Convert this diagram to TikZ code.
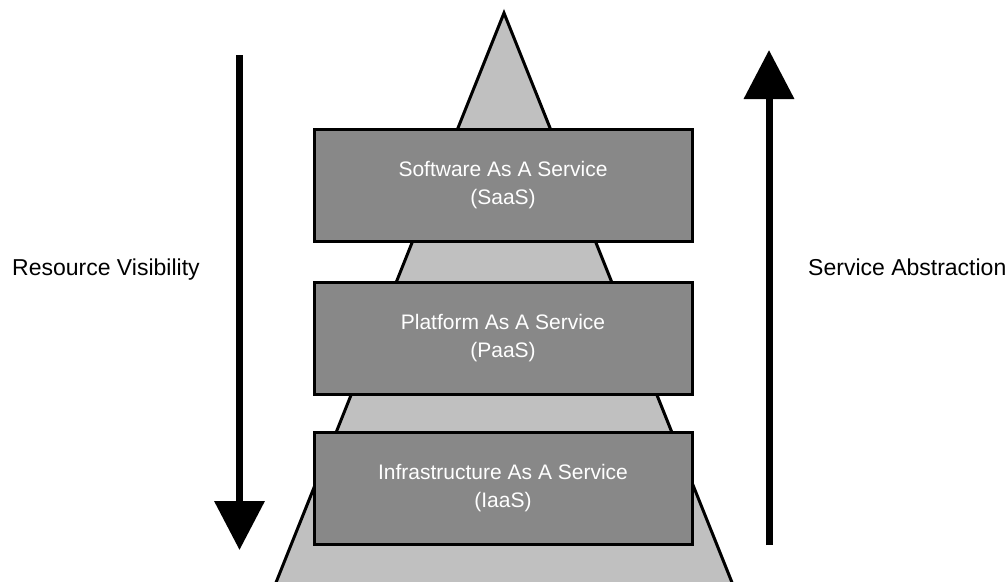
\documentclass[tikz,border=0pt]{standalone}
\usepackage{fontspec}
\setmainfont{Liberation Sans}
\usetikzlibrary{arrows.meta}
\definecolor{pyramidfill}{HTML}{C0C0C0}
\definecolor{layerfill}{HTML}{888888}
\tikzset{
  layer/.style={draw=black, line width=3pt, fill=layerfill, minimum width=378pt,
    minimum height=112pt, inner sep=0pt, align=center, text=white,
    font=\fontsize{21}{28}\selectfont},
  sidelabel/.style={inner sep=0pt, anchor=base west, font=\fontsize{23}{28}\selectfont},
  bigarrow/.style={line width=7pt, -{Triangle[length=49pt,width=49pt]}}
}
\begin{document}
\begin{tikzpicture}[x=1pt, y=-1pt]
  \useasboundingbox (0,0) rectangle (1008,581);
  % pyramid behind the service layers
  \begin{scope}
    \clip (0,0) rectangle (1008,581);
    \draw[line width=3pt, line join=miter, fill=pyramidfill]
      (504,13) -- (269,600) -- (739,600) -- cycle;
  \end{scope}
  % service layers
  \node[layer] (saas) at (503,185) {Software As A Service\\(SaaS)};
  \node[layer] (paas) at (503,338.5) {Platform As A Service\\(PaaS)};
  \node[layer] (iaas) at (503,488.5) {Infrastructure As A Service\\(IaaS)};
  % side arrows
  \coordinate (visTop) at (239.5,55);
  \coordinate (visEnd) at (239.5,550);
  \coordinate (absBot) at (769,545);
  \coordinate (absEnd) at (769,50);
  \draw[bigarrow] (visTop) -- (visEnd);
  \draw[bigarrow] (absBot) -- (absEnd);
  % side labels
  \node[sidelabel] (vis) at (12,275) {Resource Visibility};
  \node[sidelabel] (abs) at (808,275) {Service Abstraction};
\end{tikzpicture}
\end{document}
